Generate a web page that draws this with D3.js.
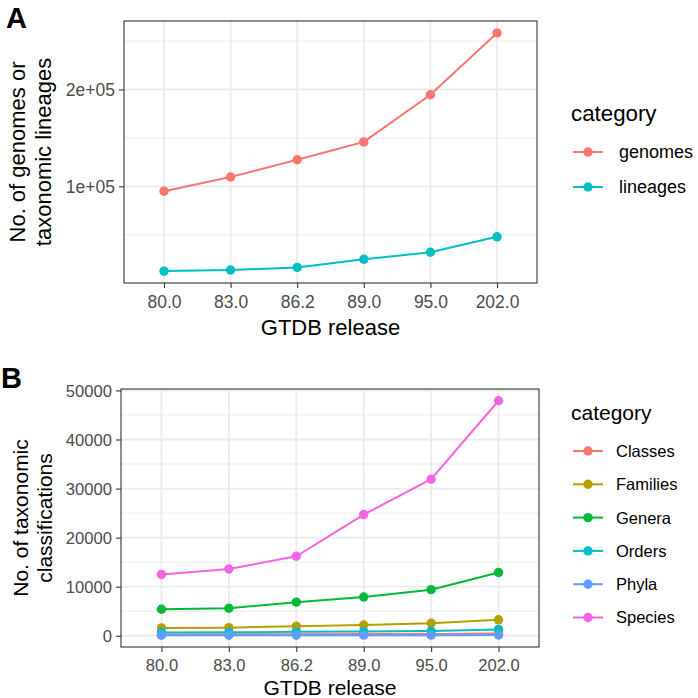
<!DOCTYPE html>
<html><head><meta charset="utf-8">
<script src="https://cdn.jsdelivr.net/npm/d3@7"></script>
<style>body{margin:0;background:#fff}svg{display:block}text{font-family:"Liberation Sans",Arial,Helvetica,sans-serif}</style>
</head><body>
<script>
const releases = ["80.0","83.0","86.2","89.0","95.0","202.0"];
const genomes  = [95000, 109600, 127500, 145900, 194600, 258400];
const lineages = [12500, 13600, 16200, 24700, 31900, 47900];
const classes  = [280, 300, 320, 340, 370, 480];
const families = [1600, 1650, 1950, 2200, 2550, 3250];
const genera   = [5400, 5600, 6850, 7900, 9400, 12900];
const orders   = [650, 700, 800, 850, 950, 1300];
const phyla    = [100, 105, 110, 120, 130, 160];
const species  = [12500, 13600, 16200, 24700, 31900, 47900];
const ticksA = [100000, 200000];
const tickLabelsA = ["1e+05", "2e+05"];
const ticksB = [0, 10000, 20000, 30000, 40000, 50000];

const seriesA = [
  {name:"genomes", values:genomes, color:"#F8766D"},
  {name:"lineages", values:lineages, color:"#00BFC4"}
];
const seriesB = [
  {name:"Classes", values:classes, color:"#F8766D"},
  {name:"Families", values:families, color:"#B79F00"},
  {name:"Genera", values:genera, color:"#00BA38"},
  {name:"Orders", values:orders, color:"#00BFC4"},
  {name:"Phyla", values:phyla, color:"#619CFF"},
  {name:"Species", values:species, color:"#F564E3"}
];

const svg = d3.select("body").append("svg").attr("width",698).attr("height",698);

function panel(cfg){
  const {x0,x1,y0,y1,series,ticks,tickLabels,minorTicks,label,labelX,labelY,titleLines,legTitleY,legStart,legStep,legLabelX,xTickY,xTitleY,yLabelX,fs} = cfg;
  const g = svg.append("g");
  const all = series.flatMap(s=>s.values);
  const mn = d3.min(all), mx = d3.max(all), ex = (mx-mn)*0.05;
  const y = d3.scaleLinear().domain([mn-ex, mx+ex]).range([y1,y0]);
  const x = d3.scalePoint().domain(releases).range([x0,x1]).padding(0.6);
  g.append("rect").attr("x",x0).attr("y",y0).attr("width",x1-x0).attr("height",y1-y0).attr("fill","#fff");
  g.selectAll(".mn").data(minorTicks).join("line")
    .attr("x1",x0).attr("x2",x1).attr("y1",d=>y(d)).attr("y2",d=>y(d))
    .attr("stroke","#EBEBEB").attr("stroke-width",1);
  g.selectAll(".mj").data(ticks).join("line")
    .attr("x1",x0).attr("x2",x1).attr("y1",d=>y(d)).attr("y2",d=>y(d))
    .attr("stroke","#EBEBEB").attr("stroke-width",1.8);
  g.selectAll(".mx").data(releases).join("line")
    .attr("x1",d=>x(d)).attr("x2",d=>x(d)).attr("y1",y0).attr("y2",y1)
    .attr("stroke","#EBEBEB").attr("stroke-width",1.8);
  const line = d3.line().x((d,i)=>x(releases[i])).y(d=>y(d));
  series.forEach(s=>{
    g.append("path").attr("d",line(s.values)).attr("fill","none").attr("stroke",s.color).attr("stroke-width",2);
  });
  series.forEach(s=>{
    g.selectAll(null).data(s.values).join("circle")
      .attr("cx",(d,i)=>x(releases[i])).attr("cy",d=>y(d)).attr("r",4.7).attr("fill",s.color);
  });
  g.append("rect").attr("x",x0).attr("y",y0).attr("width",x1-x0).attr("height",y1-y0)
    .attr("fill","none").attr("stroke","#333333").attr("stroke-width",1.1);
  const ya = d3.axisLeft(y).tickValues(ticks).tickSize(5).tickPadding(4)
    .tickFormat((d,i)=>tickLabels?tickLabels[i]:String(d));
  const yg = g.append("g").attr("transform",`translate(${x0},0)`).call(ya);
  yg.select(".domain").remove();
  yg.selectAll("line").attr("stroke","#333333").attr("stroke-width",1.1);
  yg.selectAll("text").attr("fill","#4D4D4D").style("font-size",fs.tick+"px").attr("x",-9).attr("dy","0.36em");
  const xa = d3.axisBottom(x).tickSize(5).tickPadding(4);
  const xg = g.append("g").attr("transform",`translate(0,${y1})`).call(xa);
  xg.select(".domain").remove();
  xg.selectAll("line").attr("stroke","#333333").attr("stroke-width",1.1);
  xg.selectAll("text").attr("fill","#4D4D4D").style("font-size",fs.tick+"px").attr("y",null).attr("dy",null)
    .attr("transform",`translate(0,${xTickY - y1})`);
  g.append("text").attr("x",(x0+x1)/2).attr("y",xTitleY).attr("text-anchor","middle")
    .style("font-size",fs.title+"px").attr("fill","#000").text("GTDB release");
  const cy = (y0+y1)/2;
  titleLines.forEach((t,i)=>{
    g.append("text").attr("transform",`translate(${yLabelX[i]},${cy}) rotate(-90)`)
      .attr("text-anchor","middle").style("font-size",fs.title+"px").attr("fill","#000").text(t);
  });
  g.append("text").attr("x",labelX).attr("y",labelY).style("font-size","29px").style("font-weight","bold").text(label);
  g.append("text").attr("x",571).attr("y",legTitleY).style("font-size",fs.legTitle+"px").attr("fill","#000").text("category");
  series.forEach((s,i)=>{
    const ly = legStart + i*legStep;
    g.append("line").attr("x1",573).attr("x2",603).attr("y1",ly).attr("y2",ly).attr("stroke",s.color).attr("stroke-width",2);
    g.append("circle").attr("cx",588).attr("cy",ly).attr("r",4.7).attr("fill",s.color);
    g.append("text").attr("x",legLabelX).attr("y",ly).attr("dy","0.36em").style("font-size",fs.leg+"px").attr("fill","#000").text(s.name);
  });
}

panel({x0:124,x1:537,y0:21,y1:283,series:seriesA,ticks:ticksA,tickLabels:tickLabelsA,
  minorTicks:[50000,150000,250000],label:"A",labelX:6,labelY:28,
  titleLines:["No. of genomes or","taxonomic lineages"],yLabelX:[25,51],
  legTitleY:121,legStart:152,legStep:35,legLabelX:619,xTickY:308,xTitleY:335,
  fs:{tick:17.5,title:22,leg:18,legTitle:22.3}});
panel({x0:121,x1:539,y0:389,y1:647,series:seriesB,ticks:ticksB,tickLabels:null,
  minorTicks:[5000,15000,25000,35000,45000],label:"B",labelX:1,labelY:388,
  titleLines:["No. of taxonomic","classifications"],yLabelX:[28,52],
  legTitleY:420,legStart:451,legStep:33.3,legLabelX:616,xTickY:671,xTitleY:695,
  fs:{tick:16.6,title:21,leg:16.5,legTitle:21}});
</script>
</body></html>
